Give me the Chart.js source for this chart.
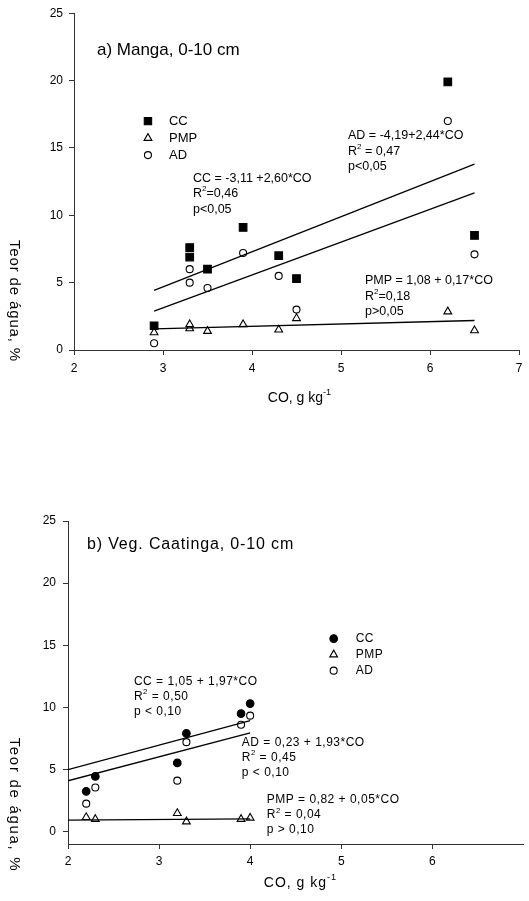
<!DOCTYPE html>
<html lang="pt">
<head>
<meta charset="UTF-8">
<title>Teor de água x CO</title>
<script src="https://cdn.jsdelivr.net/npm/chart.js@4.4.1/dist/chart.umd.min.js"></script>
<style>
    html, body { margin: 0; padding: 0; background: #fff; }
    body { width: 529px; height: 901px; position: relative; overflow: hidden; }
    .wrap { position: absolute; left: 0; width: 529px; }
    #top { top: 0; height: 450px; }
    #bot { top: 450px; height: 451px; }
</style>
</head>
<body>
<div class="wrap" id="top"><canvas id="chartA" width="529" height="450"></canvas></div>
<div class="wrap" id="bot"><canvas id="chartB" width="529" height="451"></canvas></div>
<script>
    // a) Manga, 0-10 cm
    var mangaCO  = [2.9, 3.3, 3.3, 3.5, 3.9, 4.3, 4.5, 6.2, 6.5];
    var mangaCC  = [1.8, 7.6, 6.9, 6.0, 9.1, 7.0, 5.3, 19.9, 8.5];
    var mangaPMP = [1.3, 1.6, 1.9, 1.4, 1.9, 1.5, 2.35, 2.85, 1.45];
    var mangaAD  = [0.5, 6.0, 5.0, 4.6, 7.2, 5.5, 3.0, 17.0, 7.1];
    // fitted lines (ends)
    var mangaFitX   = [2.9, 6.5];
    var mangaFitCC  = [4.43, 13.79];
    var mangaFitAD  = [2.89, 11.67];
    var mangaFitPMP = [1.57, 2.19];

    // b) Veg. Caatinga, 0-10 cm
    var caatCO  = [2.2, 2.3, 3.2, 3.3, 3.9, 4.0];
    var caatCC  = [3.24, 4.44, 5.53, 7.9, 9.5, 10.3];
    var caatPMP = [1.15, 1.0, 1.47, 0.8, 1.0, 1.1];
    var caatAD  = [2.25, 3.55, 4.1, 7.2, 8.6, 9.33];
    var caatFitX   = [2.0, 4.0];
    var caatFitCC  = [4.99, 8.93];
    var caatFitAD  = [4.09, 7.95];
    var caatFitPMP = [0.92, 1.02];

    var yTicks  = [0, 5, 10, 15, 20, 25];
    var xTicksA = [2, 3, 4, 5, 6, 7];
    var xTicksB = [2, 3, 4, 5, 6];

    var FONT = "'Liberation Sans', Arial, sans-serif";

    function pts(xs, ys) {
        return xs.map(function (x, i) { return {x: x, y: ys[i]}; });
    }

    // draws text, "^..^" parts as superscript
    function richText(ctx, str, x, y, size, spacing) {
        var parts = str.split('^');
        ctx.letterSpacing = (spacing || 0) + 'px';
        ctx.textAlign = 'left';
        ctx.textBaseline = 'middle';
        var cx = x;
        parts.forEach(function (p, i) {
            if (!p) return;
            var sup = i % 2 === 1;
            var fs = sup ? size * 0.65 : size;
            ctx.font = fs + 'px ' + FONT;
            ctx.fillText(p, cx, sup ? y - size * 0.38 : y);
            cx += ctx.measureText(p).width;
        });
        ctx.letterSpacing = '0px';
        return cx - x;
    }

    function textWidth(ctx, str, size, spacing) {
        var parts = str.split('^'), w = 0;
        ctx.letterSpacing = (spacing || 0) + 'px';
        parts.forEach(function (p, i) {
            if (!p) return;
            ctx.font = (i % 2 ? size * 0.65 : size) + 'px ' + FONT;
            w += ctx.measureText(p).width;
        });
        ctx.letterSpacing = '0px';
        return w;
    }

    function symbol(ctx, style, filled, r, x, y) {
        ctx.save();
        ctx.fillStyle = filled ? '#000' : '#fff';
        ctx.strokeStyle = '#000';
        ctx.lineWidth = 1.1;
        Chart.helpers.drawPoint(ctx, {pointStyle: style, radius: r, rotation: 0, borderWidth: 1.1}, x, y);
        ctx.restore();
    }

    var decor = {
        id: 'decor',
        afterDraw: function (chart) {
            var o = chart.options.plugins.decor;
            var ctx = chart.ctx, xs = chart.scales.x, ys = chart.scales.y;
            ctx.save();
            ctx.fillStyle = '#000';

            // panel title
            richText(ctx, o.title, xs.getPixelForValue(o.titleAt[0]), ys.getPixelForValue(o.titleAt[1]),
                o.titleSize, o.titleSpacing);

            // legend
            var lx = xs.getPixelForValue(o.legendAt[0]), ly = ys.getPixelForValue(o.legendAt[1]);
            o.legend.forEach(function (it, i) {
                var yy = ly + i * o.legendStep;
                symbol(ctx, it.style, it.filled, it.r, lx, yy);
                richText(ctx, it.label, lx + o.legendGap, yy, o.legendSize, o.textSpacing);
            });

            // equations
            o.notes.forEach(function (n) {
                var nx = xs.getPixelForValue(n.at[0]), ny = ys.getPixelForValue(n.at[1]);
                n.lines.forEach(function (line, i) {
                    richText(ctx, line, nx, ny + i * o.noteStep, o.noteSize, o.textSpacing);
                });
            });

            // y axis title, rotated clockwise
            ctx.save();
            ctx.translate(14, o.yTitleY);
            ctx.rotate(Math.PI / 2);
            ctx.font = '15px ' + FONT;
            ctx.letterSpacing = o.yTitleSpacing + 'px';
            ctx.textAlign = 'center';
            ctx.textBaseline = 'middle';
            ctx.fillText('Teor de água, %', 0, 0);
            ctx.restore();

            // x axis title
            var xt = 'CO, g kg^-1^';
            var w = textWidth(ctx, xt, 14, o.xTitleSpacing);
            richText(ctx, xt, o.xTitleX - w / 2, o.xTitleY, 14, o.xTitleSpacing);
            ctx.restore();
        }
    };

    function makeChart(id, d) {
        var pointSet = function (data, style, filled, r) {
            return {
                type: 'scatter', data: data, showLine: false,
                pointStyle: style, pointRadius: r, pointHoverRadius: r,
                pointBackgroundColor: filled ? '#000' : '#fff',
                pointBorderColor: '#000', pointBorderWidth: 1.1
            };
        };
        var fitSet = function (data) {
            return {
                type: 'line', data: data, showLine: true, pointRadius: 0,
                borderColor: '#000', borderWidth: 1.3, fill: false
            };
        };
        return new Chart(document.getElementById(id), {
            type: 'scatter',
            data: {
                datasets: [
                    fitSet(d.fitCC), fitSet(d.fitAD), fitSet(d.fitPMP),
                    pointSet(d.cc, d.ccStyle, true, d.ccR),
                    pointSet(d.pmp, 'triangle', false, 4.5),
                    pointSet(d.ad, 'circle', false, 3.5)
                ]
            },
            options: {
                responsive: false,
                animation: false,
                devicePixelRatio: 1,
                layout: {padding: d.padding},
                plugins: {
                    legend: {display: false},
                    tooltip: {enabled: false},
                    decor: d.decor
                },
                scales: {
                    x: {
                        type: 'linear', min: 2, max: 7,
                        afterBuildTicks: function (s) { s.ticks = d.xTicks.map(function (v) { return {value: v}; }); },
                        afterFit: function (s) { s.height = d.xHeight; },
                        grid: {drawOnChartArea: false, drawTicks: true, tickLength: 5, color: '#333'},
                        border: {color: '#333', width: 1},
                        ticks: {
                            font: {family: FONT, size: 12}, color: '#000', padding: d.xPad,
                            maxRotation: 0, autoSkip: false
                        }
                    },
                    y: {
                        type: 'linear', min: d.yMin, max: 25,
                        afterBuildTicks: function (s) { s.ticks = yTicks.map(function (v) { return {value: v}; }); },
                        afterFit: function (s) { s.width = d.yWidth; },
                        grid: {drawOnChartArea: false, drawTicks: true, tickLength: 5, color: '#333'},
                        border: {color: '#333', width: 1},
                        ticks: {font: {family: FONT, size: 12}, color: '#000', padding: d.yPad}
                    }
                }
            },
            plugins: [decor]
        });
    }

    makeChart('chartA', {
        cc: pts(mangaCO, mangaCC), pmp: pts(mangaCO, mangaPMP), ad: pts(mangaCO, mangaAD),
        fitCC: pts(mangaFitX, mangaFitCC), fitAD: pts(mangaFitX, mangaFitAD), fitPMP: pts(mangaFitX, mangaFitPMP),
        ccStyle: 'rect', ccR: 5.4,
        xTicks: xTicksA, yMin: 0,
        padding: {top: 11, right: 10, left: 0, bottom: 0},
        xHeight: 100, yWidth: 74, xPad: 6, yPad: 6,
        decor: {
            title: 'a) Manga, 0-10 cm', titleAt: [2.258, 22.23], titleSize: 17, titleSpacing: 0,
            legendAt: [2.831, 16.99], legendStep: 17, legendGap: 21, legendSize: 13,
            legend: [
                {label: 'CC', style: 'rect', filled: true, r: 5.2},
                {label: 'PMP', style: 'triangle', filled: false, r: 4.5},
                {label: 'AD', style: 'circle', filled: false, r: 3.5}
            ],
            noteSize: 12.5, noteStep: 15.5, textSpacing: 0,
            notes: [
                {at: [3.337, 12.74], lines: ['CC = -3,11 +2,60*CO', 'R^2^=0,46', 'p<0,05']},
                {at: [5.079, 15.9], lines: ['AD = -4,19+2,44*CO', 'R^2^ = 0,47', 'p<0,05']},
                {at: [5.27, 5.15], lines: ['PMP = 1,08 + 0,17*CO', 'R^2^=0,18', 'p>0,05']}
            ],
            yTitleY: 301, yTitleSpacing: 0.85,
            xTitleX: 299.5, xTitleY: 398, xTitleSpacing: 0
        }
    });

    makeChart('chartB', {
        cc: pts(caatCO, caatCC), pmp: pts(caatCO, caatPMP), ad: pts(caatCO, caatAD),
        fitCC: pts(caatFitX, caatFitCC), fitAD: pts(caatFitX, caatFitAD), fitPMP: pts(caatFitX, caatFitPMP),
        ccStyle: 'circle', ccR: 3.8,
        xTicks: xTicksB, yMin: -1,
        padding: {top: 71, right: 5, left: 0, bottom: 0},
        xHeight: 57, yWidth: 68, xPad: 5, yPad: 7,
        decor: {
            title: 'b) Veg. Caatinga, 0-10 cm', titleAt: [2.208, 23.07], titleSize: 16, titleSpacing: 0.85,
            legendAt: [4.917, 15.53], legendStep: 16, legendGap: 22, legendSize: 12,
            legend: [
                {label: 'CC', style: 'circle', filled: true, r: 3.8},
                {label: 'PMP', style: 'triangle', filled: false, r: 4.5},
                {label: 'AD', style: 'circle', filled: false, r: 3.5}
            ],
            noteSize: 12, noteStep: 15, textSpacing: 0.5,
            notes: [
                {at: [2.724, 12.08], lines: ['CC = 1,05 + 1,97*CO', 'R^2^ = 0,50', 'p < 0,10']},
                {at: [3.908, 7.19], lines: ['AD = 0,23 + 1,93*CO', 'R^2^ = 0,45', 'p < 0,10']},
                {at: [4.182, 2.54], lines: ['PMP = 0,82 + 0,05*CO', 'R^2^ = 0,04', 'p > 0,10']}
            ],
            yTitleY: 355, yTitleSpacing: 1.7,
            xTitleX: 300.5, xTitleY: 433, xTitleSpacing: 1
        }
    });
</script>
</body>
</html>
